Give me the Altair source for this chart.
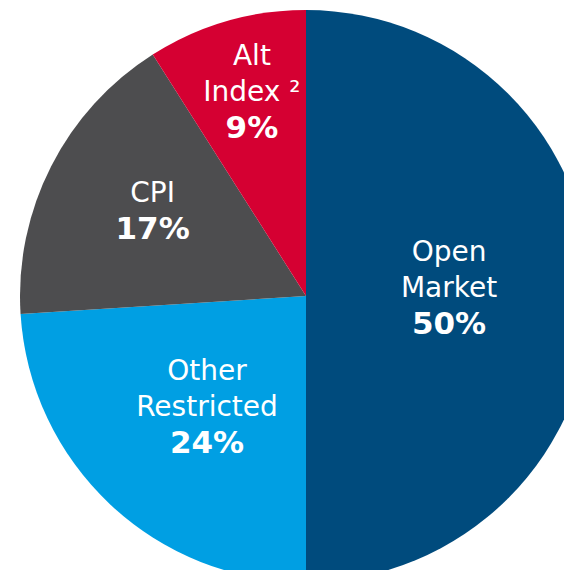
import altair as alt
import pandas as pd
import math

categories = ["Open Market", "Other Restricted", "CPI", "Alt Index"]
line_upper = ["Open", "Other", "", "Alt"]
line_lower = ["Market", "Restricted", "CPI", "Index ²"]
shares = [50, 24, 17, 9]
pct_labels = ["50%", "24%", "17%", "9%"]
colors = ["#004B7D", "#009FE3", "#4D4D4F", "#D50032"]
# label placement: nudge (degrees) from slice middle, and distance from centre
label_nudge = [11.5, -9.4, -3.7, -1.7]
label_radius = [146, 178, 167, 176]

total = sum(shares)
cum = 0
label_theta = []
for s, n in zip(shares, label_nudge):
    mid_deg = (cum + s / 2) / total * 360 + n
    label_theta.append(math.radians(mid_deg))
    cum += s

df = pd.DataFrame({
    "cat": categories,
    "up": line_upper,
    "low": line_lower,
    "share": shares,
    "pct": pct_labels,
    "idx": list(range(len(categories))),
    "lr": label_radius,
    "lt": label_theta,
})

cx, cy, R = 298, 288, 286
LH = 36

pie = alt.Chart(df).mark_arc(outerRadius=R, stroke=None).encode(
    theta=alt.Theta("share:Q", stack=True),
    order=alt.Order("idx:Q"),
    x=alt.value(cx),
    y=alt.value(cy),
    color=alt.Color("cat:N", scale=alt.Scale(domain=categories, range=colors), legend=None),
)

tbase = alt.Chart(df).encode(
    theta=alt.Theta("lt:Q", scale=None, stack=False),
    radius=alt.Radius("lr:Q", scale=None),
    x=alt.value(cx),
    y=alt.value(cy),
)

common = dict(font="DejaVu Sans", color="white", align="center", baseline="middle")

pct_text = tbase.mark_text(fontSize=31, fontWeight="bold", **common).encode(text="pct:N")
low_text = tbase.mark_text(fontSize=28, dy=-LH, **common).encode(text="low:N")
up_text = tbase.mark_text(fontSize=28, dy=-2 * LH, **common).encode(text="up:N")

chart = alt.layer(pie, up_text, low_text, pct_text).properties(
    width=556, height=562, autosize=alt.AutoSizeParams(type="none"), padding=0
).configure_view(stroke=None)

chart.save("out.html", embed_options={"renderer": "svg", "actions": False})
